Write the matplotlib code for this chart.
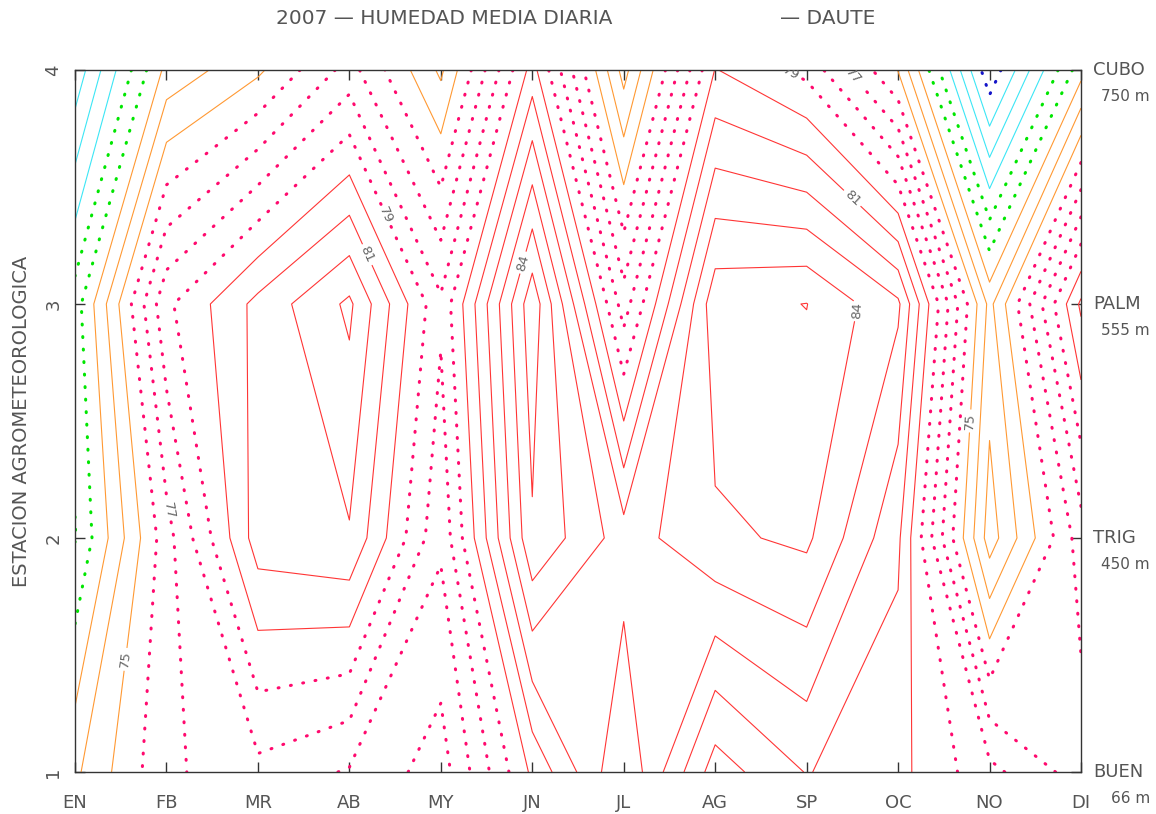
import numpy as np
import matplotlib
matplotlib.use('Agg')
import matplotlib.pyplot as plt

# humedad media diaria 2007, zona Daute
months = ['EN', 'FB', 'MR', 'AB', 'MY', 'JN', 'JL', 'AG', 'SP', 'OC', 'NO', 'DI']
stations = ['BUEN', 'TRIG', 'PALM', 'CUBO']
heights = ['66 m', '450 m', '555 m', '750 m']

buen = [73.8, 76.8, 77.7, 76.9, 75.5, 80.2, 83.9, 79.5, 81.05, 80.3, 78.3, 76.5]
trig = [70.95, 76.6, 81.5, 81.9, 77.2, 84.85, 82.5, 83.8, 84.2, 81.2, 72.5, 77.5]
palm = [71.5, 78.8, 81.3, 83.2, 78.2, 85.7, 77.5, 84.7, 85.02, 83.2, 73.7, 81.2]
cubo = [67.3, 73.3, 74.8, 77.4, 73.8, 80.4, 72.6, 80.05, 78.7, 74.95, 66.2, 72.6]

hum = np.array([buen, trig, palm, cubo])
x = np.arange(1, len(months) + 1)
y = np.arange(1, len(stations) + 1)

# level groups -> colour, dotted?
groups = [
    (list(range(60, 68)), '#1414c8', True),
    ([68, 69, 70], '#3ce6f5', False),
    ([71, 72], '#00e600', True),
    ([73, 74, 75], '#ff9933', False),
    ([76, 77, 78, 79], '#ff0a6e', True),
    (list(range(80, 90)), '#ff3535', False),
]

# where the reference puts its labels
label_pos = {
    75: [(1.58, 1.48), (10.79, 2.5)],
    77: [(2.07, 2.12), (9.2, 3.87)],
    79: [(4.39, 3.38), (8.82, 3.98)],
    81: [(4.19, 3.21), (9.47, 3.44)],
    84: [(5.87, 3.18), (10.0, 2.94)],
}

fig = plt.figure(figsize=(11.56, 8.14), dpi=100)
ax = fig.add_axes([75 / 1156, 42 / 814, 1006 / 1156, 702 / 814])


def draw(levs, col, dotted):
    if dotted:
        cs = ax.contour(x, y, hum, levels=levs, colors=col, linewidths=2.2,
                        linestyles=[(0, (0.3, 3.8))])
        cs.set_capstyle('round')
    else:
        cs = ax.contour(x, y, hum, levels=levs, colors=col, linewidths=0.8,
                        linestyles='solid')
    return cs


for levs, col, dotted in groups:
    plain = [l for l in levs if l not in label_pos]
    if plain:
        draw(plain, col, dotted)
    for l in levs:
        if l in label_pos:
            cs = draw([l], col, dotted)
            ax.clabel(cs, manual=label_pos[l], fmt='%d', fontsize=9.5,
                      colors='#666666', inline=True, inline_spacing=3)

ax.set_xlim(1, 12)
ax.set_ylim(1, 4)
ax.set_xticks(x)
ax.set_xticklabels(months)
ax.set_yticks(y)
ax.set_yticklabels([str(v) for v in y], rotation=90, va='center')
ax.tick_params(direction='in', length=7, width=1, colors='#333333',
               labelcolor='#555555', labelsize=13, top=True, right=True)
ax.tick_params(axis='x', pad=16)
ax.tick_params(axis='y', pad=9)
for sp in ax.spines.values():
    sp.set_color('#333333')
    sp.set_linewidth(1)

ax.set_ylabel('ESTACION AGROMETEOROLOGICA', fontsize=14, color='#555555',
              labelpad=10)

for st, h, yy in zip(stations, heights, y):
    ax.text(12.13, yy, st, fontsize=13, color='#555555', va='center',
            ha='left', clip_on=False)
    ax.text(12.755, yy - 0.115, h, fontsize=11, color='#555555', va='center',
            ha='right', clip_on=False)

fig.text(276 / 1156, 1 - 19 / 814, '2007 \u2014 HUMEDAD MEDIA DIARIA',
         fontsize=14.5, color='#555555', va='center', ha='left')
fig.text(780 / 1156, 1 - 19 / 814, '\u2014 DAUTE',
         fontsize=14.5, color='#555555', va='center', ha='left')

fig.savefig('out.png', dpi=100)
